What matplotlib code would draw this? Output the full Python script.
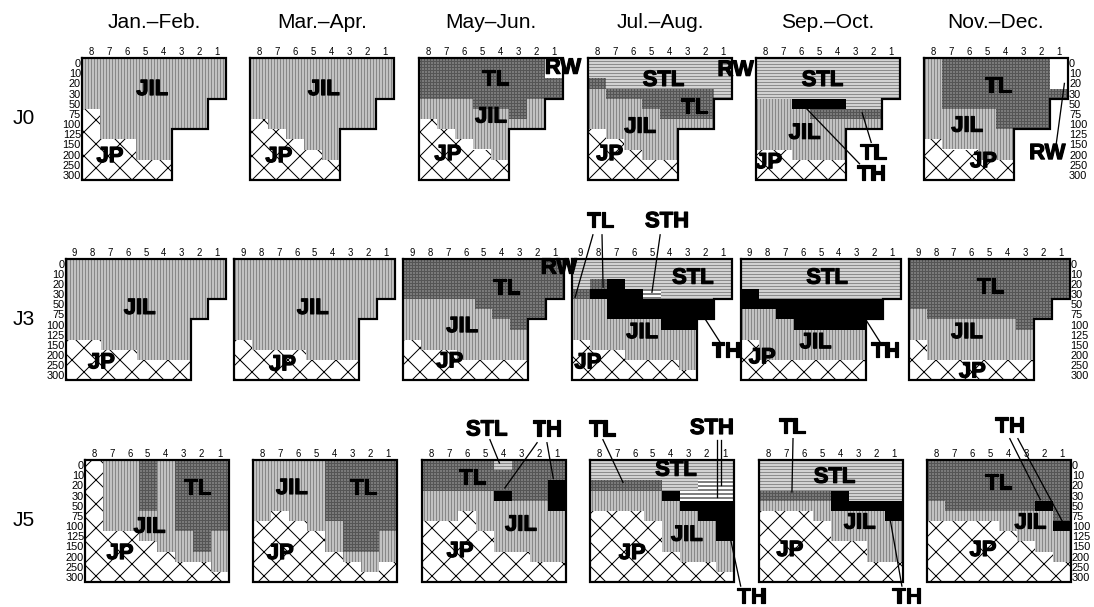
import numpy as np
import matplotlib.pyplot as plt
import matplotlib.patheffects as pe
from matplotlib.lines import Line2D

plt.rcParams['font.family'] = ['Liberation Sans', 'DejaVu Sans']
plt.rcParams['hatch.linewidth'] = 1.0

months = ['Jan.\u2013Feb.', 'Mar.\u2013Apr.', 'May\u2013Jun.', 'Jul.\u2013Aug.', 'Sep.\u2013Oct.', 'Nov.\u2013Dec.']
transects = ['J0', 'J3', 'J5']
depth_labels = ['0', '10', '20', '30', '50', '75', '100', '125', '150', '200', '250', '300']
stations8 = ['8', '7', '6', '5', '4', '3', '2', '1']
stations9 = ['9', '8', '7', '6', '5', '4', '3', '2', '1']

# water masses per depth (rows) and station (columns, offshore -> coast)
# I=JIL  P=JP  T=TL  S=STL  H=TH  R=RW  h=STH  .=below bottom
j0_janfeb = ['IIIIIIII', 'IIIIIIII', 'IIIIIIII', 'IIIIIIII', 'IIIIIII.', 'PIIIIII.',
             'PIIIIII.', 'PIIII...', 'PPPII...', 'PPPII...', 'PPPPP...', 'PPPPP...']
j0_marapr = ['IIIIIIII', 'IIIIIIII', 'IIIIIIII', 'IIIIIIII', 'IIIIIII.', 'IIIIIII.',
             'PIIIIII.', 'PPIII...', 'PPPII...', 'PPPPI...', 'PPPPP...', 'PPPPP...']
j0_mayjun = ['TTTTTTTR', 'TTTTTTTR', 'TTTTTTTT', 'TTTTTTTT', 'IIITTTI.', 'IIIIITI.',
             'PIIIIII.', 'PPIII...', 'PPPII...', 'PPPPI...', 'PPPPP...', 'PPPPP...']
j0_julaug = ['SSSSSSSS', 'SSSSSSSS', 'TSSSSSSS', 'ITTTTTTS', 'IIITTTT.', 'IIIITTT.',
             'IIIIIII.', 'PIIII...', 'PPIII...', 'PPPII...', 'PPPPP...', 'PPPPP...']
j0_sepoct = ['SSSSSSSS', 'SSSSSSSS', 'SSSSSSSS', 'SSSSSSSS', 'IIHHHSS.', 'IIITTTT.',
             'IIIIIII.', 'IIIII...', 'IIIII...', 'PPIII...', 'PPPPP...', 'PPPPP...']
j0_novdec = ['ITTTTTTR', 'ITTTTTTR', 'ITTTTTTR', 'ITTTTTTT', 'ITTTTTT.', 'IIIITTT.',
             'IIIITTT.', 'IIIII...', 'PIIII...', 'PPPII...', 'PPPPP...', 'PPPPP...']

j3_janfeb = ['IIIIIIIII', 'IIIIIIIII', 'IIIIIIIII', 'IIIIIIIII', 'IIIIIIII.', 'IIIIIIII.',
             'IIIIIII..', 'IIIIIII..', 'PPIIIII..', 'PPPPIII..', 'PPPPPPP..', 'PPPPPPP..']
j3_marapr = ['IIIIIIIII', 'IIIIIIIII', 'IIIIIIIII', 'IIIIIIIII', 'IIIIIIII.', 'IIIIIIII.',
             'IIIIIII..', 'IIIIIII..', 'PIIIIII..', 'PPPPIII..', 'PPPPPPP..', 'PPPPPPP..']
j3_mayjun = ['TTTTTTTTT', 'TTTTTTTTT', 'TTTTTTTTT', 'TTTTTTTTT', 'IIIITTTT.', 'IIIIITTT.',
             'IIIIIIT..', 'IIIIIII..', 'PIIIIII..', 'PPPIIII..', 'PPPPPPP..', 'PPPPPPP..']
j3_julaug = ['SSSSSSSSS', 'SSSSSSSSS', 'STHSSSSSS', 'THHHhSSSS', 'IIHHHHHH.', 'IIHHHHHH.',
             'IIIIIHH..', 'IIIIIII..', 'PIIIIII..', 'PPPIIII..', 'PPPPPPI..', 'PPPPPPP..']
j3_sepoct = ['SSSSSSSSS', 'SSSSSSSSS', 'SSSSSSSSS', 'HSSSSSSSS', 'HHHHHHHH.', 'IIHHHHHH.',
             'IIIHHHH..', 'IIIIIII..', 'PIIIIII..', 'PIIIIII..', 'PPPPPPP..', 'PPPPPPP..']
j3_novdec = ['TTTTTTTTT', 'TTTTTTTTT', 'TTTTTTTTT', 'TTTTTTTTT', 'TTTTTTTT.', 'ITTTTTTT.',
             'IIIIIIT..', 'IIIIIII..', 'PIIIIII..', 'PIIIIII..', 'PPPPPPP..', 'PPPPPPP..']

j5_janfeb = ['PIITITTT', 'PIITITTT', 'PIITITTT', 'PIITITTT', 'PIITITTT', 'PIIIITTT',
             'PIIIITTT', 'PPPIIITI', 'PPPPIITI', 'PPPPPIII', 'PPPPPPPI', 'PPPPPPPP']
j5_marapr = ['IIIITTTT', 'IIIITTTT', 'IIIITTTT', 'IIIITTTT', 'IIIITTTT', 'IPIITTTT',
             'PPPIITTT', 'PPPPITTI', 'PPPPITTI', 'PPPPPIII', 'PPPPPPIP', 'PPPPPPPP']
j5_mayjun = ['TTTTSTTT', 'TTTTTTTT', 'TTTTTTTH', 'IIIIHTTH', 'IIIIIIIH', 'IIPIIIII',
             'PPPIIIII', 'PPPPIIII', 'PPPPIIII', 'PPPPPPII', 'PPPPPPPP', 'PPPPPPPP']
j5_julaug = ['SSSSSSSS', 'SSSSSSSS', 'TTTTSShh', 'IIIIHhhh', 'IIIIIHHH', 'PPPIIIHH',
             'PPPPIIIH', 'PPPPIIIH', 'PPPPIIII', 'PPPPPIII', 'PPPPPPPI', 'PPPPPPPP']
j5_sepoct = ['SSSSSSSS', 'SSSSSSSS', 'SSSSSSSS', 'TTTTHSSS', 'IIIIHHHH', 'PPPIIIIH',
             'PPPPIIII', 'PPPPIIII', 'PPPPPPII', 'PPPPPPII', 'PPPPPPPP', 'PPPPPPPP']
j5_novdec = ['TTTTTTTT', 'TTTTTTTT', 'TTTTTTTT', 'TTTTTTTT', 'ITTTTTHT', 'IIIIIIIT',
             'PPPPIIIH', 'PPPPPIII', 'PPPPPPII', 'PPPPPPPI', 'PPPPPPPP', 'PPPPPPPP']

panels = [[j0_janfeb, j0_marapr, j0_mayjun, j0_julaug, j0_sepoct, j0_novdec],
          [j3_janfeb, j3_marapr, j3_mayjun, j3_julaug, j3_sepoct, j3_novdec],
          [j5_janfeb, j5_marapr, j5_mayjun, j5_julaug, j5_sepoct, j5_novdec]]

# ---- styles / layout ----
styles = {
    'I': dict(color='#c2c2c2', hatch='||||', edgecolor='#888888'),
    'T': dict(color='#7a7a7a', hatch='++++', edgecolor='#555555'),
    'S': dict(color='#d2d2d2', hatch='----', edgecolor='#8c8c8c'),
    'H': dict(color='black', edgecolor='black'),
    'R': dict(color='white', edgecolor='white'),
    'h': dict(color='white', hatch='---', edgecolor='black'),
    'P': dict(color='white', hatch='x', edgecolor='black'),
}

W, H = 1094, 607
row_top = [58, 259, 460]
row_h = [122, 121, 122]
lefts = [[82, 250, 419, 588, 756, 924],
         [65.7, 234.3, 403.3, 571.7, 740.7, 909],
         [85, 253.3, 422.3, 590, 759.3, 927.3]]
widths = [144, 160.5, 143.5]

# labels: (text, x, y) in cell units
labels = [
    [[('JIL', 3.9, 3.1), ('JP', 1.55, 9.7)],
     [('JIL', 4.1, 3.1), ('JP', 1.6, 9.7)],
     [('TL', 4.25, 2.1), ('RW', 8.0, 1.0), ('JIL', 4.0, 5.8), ('JP', 1.6, 9.5)],
     [('STL', 4.2, 2.2), ('TL', 5.9, 4.9), ('JIL', 2.9, 6.8), ('JP', 1.2, 9.5), ('RW', 8.2, 1.2)],
     [('STL', 3.7, 2.2), ('JIL', 2.7, 7.4), ('JP', 0.7, 10.3), ('TL', 6.5, 9.4), ('TH', 6.4, 11.5)],
     [('TL', 4.1, 2.8), ('JIL', 2.4, 6.7), ('JP', 3.3, 10.2), ('RW', 6.85, 9.4)]],
    [[('JIL', 4.15, 4.9), ('JP', 2.0, 10.3)],
     [('JIL', 4.4, 4.9), ('JP', 2.7, 10.5)],
     [('TL', 5.8, 2.9), ('JIL', 3.3, 6.7), ('JP', 2.6, 10.2), ('RW', 8.73, 0.9)],
     [('STL', 6.8, 1.9), ('JIL', 3.95, 7.3), ('JP', 0.9, 10.3), ('TL', 1.6, -3.7),
      ('STH', 5.35, -3.7), ('TH', 8.65, 9.2)],
     [('STL', 4.85, 1.9), ('JIL', 4.2, 8.3), ('JP', 1.2, 9.8), ('TH', 8.1, 9.2)],
     [('TL', 4.55, 2.8), ('JIL', 3.25, 7.3), ('JP', 3.55, 11.2)]],
    [[('TL', 6.25, 2.8), ('JIL', 3.6, 6.6), ('JP', 1.95, 9.2)],
     [('JIL', 2.15, 2.8), ('TL', 6.15, 2.8), ('JP', 1.5, 9.2)],
     [('TL', 2.8, 1.8), ('JIL', 5.5, 6.4), ('JP', 2.1, 9.0), ('STL', 3.6, -2.95), ('TH', 6.95, -2.95)],
     [('STL', 4.8, 1.0), ('JIL', 5.4, 7.4), ('JP', 2.35, 9.2), ('TL', 0.67, -2.95),
      ('STH', 6.8, -3.1), ('TH', 9.0, 13.5)],
     [('STL', 4.2, 1.7), ('JIL', 5.6, 6.2), ('JP', 1.7, 8.9), ('TL', 1.82, -3.15), ('TH', 8.23, 13.5)],
     [('TL', 3.95, 2.3), ('JIL', 5.75, 6.2), ('JP', 3.1, 8.9), ('TH', 4.6, -3.25)]],
]

leaders = {
    (0, 4): [((5.75, 10.4), (2.6, 4.6)), ((6.4, 8.3), (5.9, 5.4))],
    (0, 5): [((7.35, 8.4), (7.8, 2.5))],
    (1, 3): [((1.19, -2.4), (0.19, 3.8)), ((1.7, -2.4), (1.76, 2.8)),
             ((4.96, -2.4), (4.5, 3.3)), ((8.3, 8.2), (7.5, 6.0))],
    (1, 4): [((7.8, 8.2), (7.08, 6.2))],
    (2, 2): [((3.77, -2.0), (4.3, 0.3)), ((6.4, -1.7), (4.6, 2.75)), ((6.95, -1.7), (7.3, 1.8))],
    (2, 3): [((0.72, -2.0), (1.84, 2.2)), ((7.08, -2.0), (7.08, 3.6)), ((7.3, -2.0), (7.3, 2.5)),
             ((8.4, 12.4), (7.86, 8.0))],
    (2, 4): [((1.88, -2.1), (1.82, 3.15)), ((7.95, 12.4), (7.28, 5.7))],
    (2, 5): [((4.6, -2.1), (6.3, 3.9)), ((5.05, -2.1), (7.55, 6.1))],
}

fig = plt.figure(figsize=(W / 72, H / 72), dpi=72)
thick = [pe.withStroke(linewidth=1.2, foreground='black')]

for r in range(3):
    for c in range(6):
        grid = panels[r][c]
        n = len(grid[0])
        ax = fig.add_axes([lefts[r][c] / W, 1 - (row_top[r] + row_h[r]) / H,
                           widths[r] / W, row_h[r] / H])
        depth = [sum(1 for row in grid if row[i] != '.') for i in range(n)]
        for i in range(n):
            col = [row[i] for row in grid]
            start = 0
            for k in range(1, len(col) + 1):
                if k == len(col) or col[k] != col[start]:
                    code = col[start]
                    if code != '.':
                        ax.bar(i + 0.5, k - start, bottom=start, width=1.0, linewidth=0,
                               antialiased=False, **styles[code])
                    start = k
        # outline with bottom steps
        xs, ys = [0, n, n], [0, 0, depth[-1]]
        for i in range(n - 1, 0, -1):
            xs += [i, i]
            ys += [depth[i], depth[i - 1]]
        xs += [0, 0]
        ys += [depth[0], 0]
        ax.plot(xs, ys, color='black', lw=2.2, clip_on=False, solid_joinstyle='miter')

        ax.set_xlim(0, n)
        ax.set_ylim(12, 0)
        for s in ax.spines.values():
            s.set_visible(False)
        ax.set_xticks(np.arange(n) + 0.5)
        ax.set_xticklabels(stations9 if n == 9 else stations8)
        ax.xaxis.set_ticks_position('top')
        ax.tick_params(axis='x', length=0, pad=1, labelsize=9.5)
        ax.set_yticks(np.arange(12) + 0.5)
        if c == 0:
            ax.set_yticklabels(depth_labels)
        elif c == 5:
            ax.yaxis.tick_right()
            ax.set_yticklabels(depth_labels)
        else:
            ax.set_yticklabels([])
        ax.tick_params(axis='y', length=0, pad=1, labelsize=11)

        # labels and leader lines drawn at figure level so neighbours never cover them
        for txt, x, y in labels[r][c]:
            fig.text(x, y, txt, fontsize=22, fontweight='bold', ha='center', va='center',
                     transform=ax.transData, path_effects=thick, zorder=6)
        for (x0, y0), (x1, y1) in leaders.get((r, c), []):
            fig.add_artist(Line2D([x0, x1], [y0, y1], color='black', lw=1.3,
                                  transform=ax.transData, zorder=5))

for c in range(6):
    cx = (lefts[0][c] + widths[0] / 2) / W
    fig.text(cx, 1 - 23 / H, months[c], ha='center', va='center', fontsize=21)

for r in range(3):
    fig.text(24 / W, 1 - (row_top[r] + row_h[r] / 2) / H, transects[r],
             ha='center', va='center', fontsize=21)

fig.savefig('out.png', dpi=72)
